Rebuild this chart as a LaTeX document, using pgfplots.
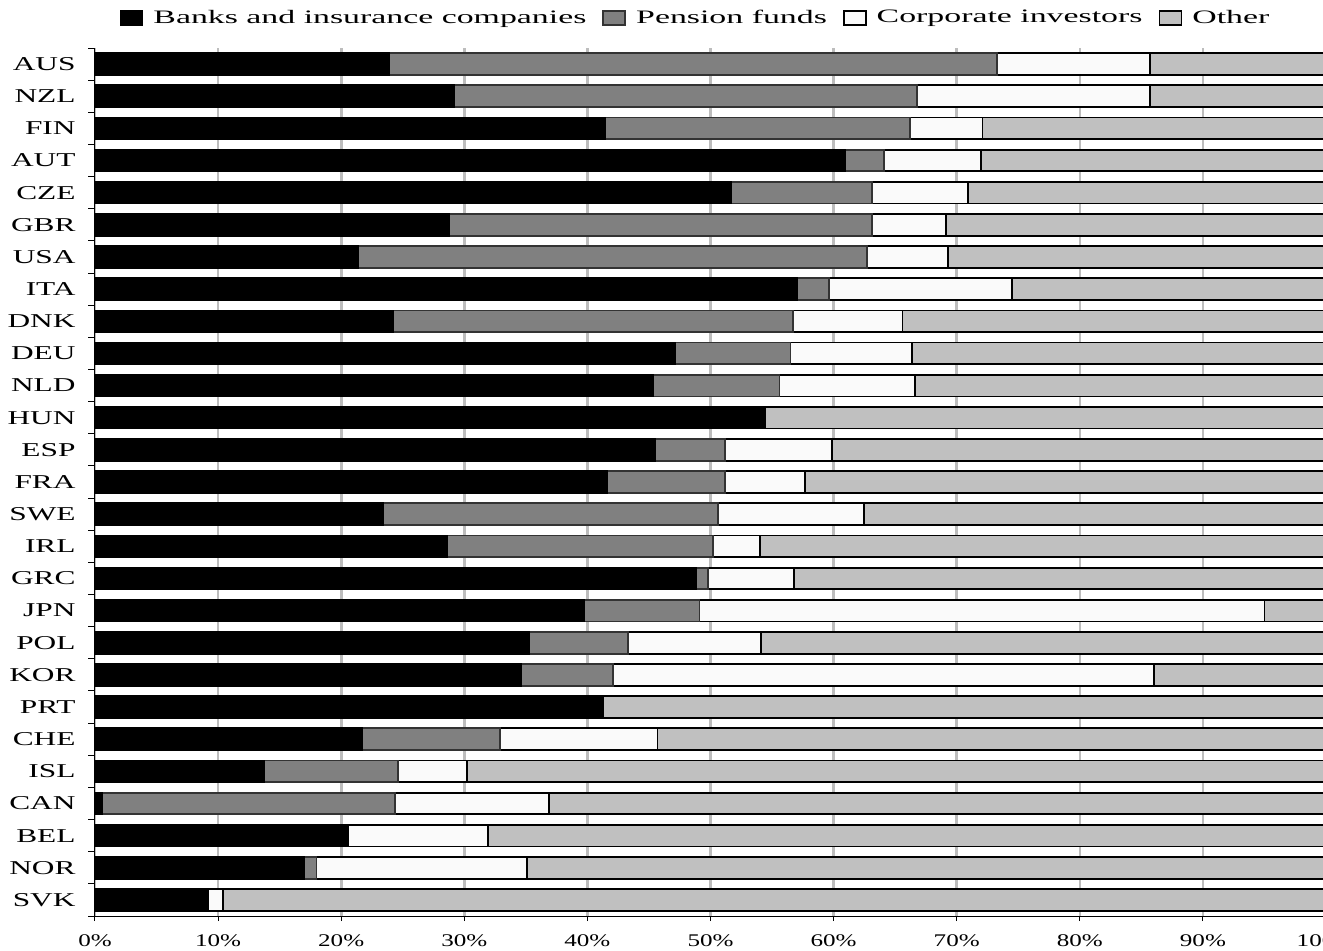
\documentclass[border=0pt]{standalone}
\usepackage{pgfplots}
\usepackage{pgfplotstable}
\pgfplotsset{compat=1.18}
\usepackage{fontspec}
\setmainfont{Liberation Serif}
\newfontfamily\legfont[FakeStretch=1.78]{Liberation Serif}
\newfontfamily\yfont[FakeStretch=1.6]{Liberation Serif}
\newfontfamily\xfont[FakeStretch=1.41]{Liberation Serif}
\definecolor{cBank}{HTML}{000000}
\definecolor{cPens}{HTML}{808080}
\definecolor{cCorp}{HTML}{FAFAFA}
\definecolor{cOther}{HTML}{C0C0C0}
\definecolor{cGrid}{HTML}{BDBDBD}

\pgfplotstableread{
y B P C O
0 23.9 49.4 12.4 14.3
1 29.2 37.6 18.9 14.3
2 41.4 24.8 5.9 27.9
3 60.9 3.2 7.9 28.0
4 51.7 11.4 7.8 29.1
5 28.8 34.3 6.0 30.9
6 21.4 41.3 6.6 30.7
7 57.0 2.6 14.9 25.5
8 24.2 32.5 8.9 34.4
9 47.1 9.4 9.9 33.6
10 45.3 10.3 11.0 33.4
11 54.4 0 0 45.6
12 45.5 5.7 8.7 40.1
13 41.6 9.6 6.5 42.3
14 23.4 27.2 11.9 37.5
15 28.6 21.6 3.8 46.0
16 48.8 1.0 7.0 43.2
17 39.7 9.4 45.9 5.0
18 35.3 8.0 10.8 45.9
19 34.6 7.5 43.9 14.0
20 41.3 0 0 58.7
21 21.7 11.2 12.8 54.3
22 13.7 10.9 5.6 69.8
23 0.6 23.8 12.5 63.1
24 20.6 0 11.3 68.1
25 17.0 1.0 17.1 64.9
26 9.2 0 1.2 89.6
}\data

\pgfplotsset{boxlegend/.style={legend image code/.code={\draw[##1,/tikz/.cd,line width=0.9pt] (0pt,-3.4pt) rectangle (11pt,3.4pt);}}}

\begin{document}
\begin{tikzpicture}
\begin{axis}[
  name=ax,
  scale only axis,
  width=615.5pt, height=434pt,
  xbar stacked,
  bar width=0.675,
  xmin=0, xmax=100,
  ymin=-0.5, ymax=26.5,
  y dir=reverse,
  axis x line*=bottom,
  axis y line*=left,
  axis line style={black, line width=0.5pt},
  xtick={0,10,...,100},
  xticklabels={0\%,10\%,20\%,30\%,40\%,50\%,60\%,70\%,80\%,90\%,100\%},
  xticklabel style={font=\xfont\fontsize{8.9}{10}\selectfont, yshift=-3.5pt},
  ytick={0,1,...,26},
  yticklabels={AUS,NZL,FIN,AUT,CZE,GBR,USA,ITA,DNK,DEU,NLD,HUN,ESP,FRA,SWE,IRL,GRC,JPN,POL,KOR,PRT,CHE,ISL,CAN,BEL,NOR,SVK},
  yticklabel style={font=\yfont\fontsize{9.8}{11}\selectfont, xshift=-3.7pt},
  minor ytick={-0.5,0.5,...,26.5},
  tick align=outside,
  ytick style={draw=none},
  minor y tick style={draw=black, line width=0.5pt},
  minor tick length=3.5pt,
  x tick style={draw=black, line width=0.5pt},
  major tick length=2.5pt,
  xmajorgrids,
  major grid style={draw=cGrid, line width=1.3pt},
  legend style={at={(0.5,1)}, anchor=center, yshift=15pt, xshift=-7pt,
    draw=none, fill=none,
    font=\legfont\fontsize{9.5}{10.5}\selectfont,
    legend columns=4,
    /tikz/every odd column/.append style={column sep=3pt},
    /tikz/every even column/.append style={column sep=6pt}},
]
\addplot[fill=cBank, draw=black, line width=0.9pt, boxlegend] table[x=B, y=y] {\data};
\addplot[fill=cPens, draw=black!80, line width=0.9pt, boxlegend] table[x=P, y=y] {\data};
\addplot[fill=cCorp, draw=black, line width=0.9pt, boxlegend] table[x=C, y=y] {\data};
\addplot[fill=cOther, draw=black, line width=0.9pt, boxlegend] table[x=O, y=y] {\data};
\legend{Banks and insurance companies, Pension funds, Corporate investors, Other}
\end{axis}
\pgfresetboundingbox
\path[use as bounding box] ([xshift=-47.5pt,yshift=-17pt]ax.south west) rectangle ([xshift=614pt,yshift=458pt]ax.south west);
\end{tikzpicture}
\end{document}
